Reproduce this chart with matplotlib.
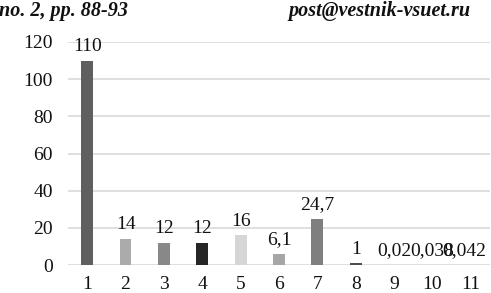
import matplotlib
matplotlib.use("Agg")
import matplotlib.pyplot as plt

categories = ["1", "2", "3", "4", "5", "6", "7", "8", "9", "10", "11"]
values = [110, 14, 12, 12, 16, 6.1, 24.7, 1, 0.02, 0.038, 0.042]
value_labels = ["110", "14", "12", "12", "16", "6,1", "24,7", "1", "0,02", "0,038", "0,042"]
colors = ["#5f5f5f", "#ababab", "#888888", "#262626", "#d6d6d6", "#a6a6a6",
          "#7f7f7f", "#4f4f4f", "#7f7f7f", "#7f7f7f", "#7f7f7f"]
yticks = [0, 20, 40, 60, 80, 100, 120]

plt.rcParams['font.family'] = ['Liberation Serif', 'DejaVu Serif']

fig = plt.figure(figsize=(4.91, 2.93), dpi=100)
ax = fig.add_axes([68/491, 28/293, 422/491, 223/293])

x = list(range(len(categories)))
bars = ax.bar(x, values, width=0.31, color=colors, zorder=3)
texts = ax.bar_label(bars, labels=value_labels, padding=4, fontsize=14, color="#111111")
# last label is nudged left so it stays inside the chart area
texts[-1].xyann = (-4.5, 4)

ax.set_xlim(-0.5, len(categories) - 0.5)
ax.set_ylim(0, 120)
ax.set_yticks(yticks)
ax.set_xticks(x)
ax.set_xticklabels(categories)
ax.grid(axis='y', color='#d9d9d9', linewidth=1.2, zorder=0)
for s in ax.spines.values():
    s.set_visible(False)
ax.tick_params(axis='both', length=0, labelsize=14, colors="#111111")
ax.tick_params(axis='y', pad=11)
ax.tick_params(axis='x', pad=8)

fig.text(-0.002, 0.962, "no. 2, pp. 88-93", fontsize=14.5, fontweight='bold',
         fontstyle='italic', ha='left', va='center', color='#111111')
fig.text(0.958, 0.962, "post@vestnik-vsuet.ru", fontsize=14.5, fontweight='bold',
         fontstyle='italic', ha='right', va='center', color='#111111')

fig.savefig("out.png", dpi=100)
